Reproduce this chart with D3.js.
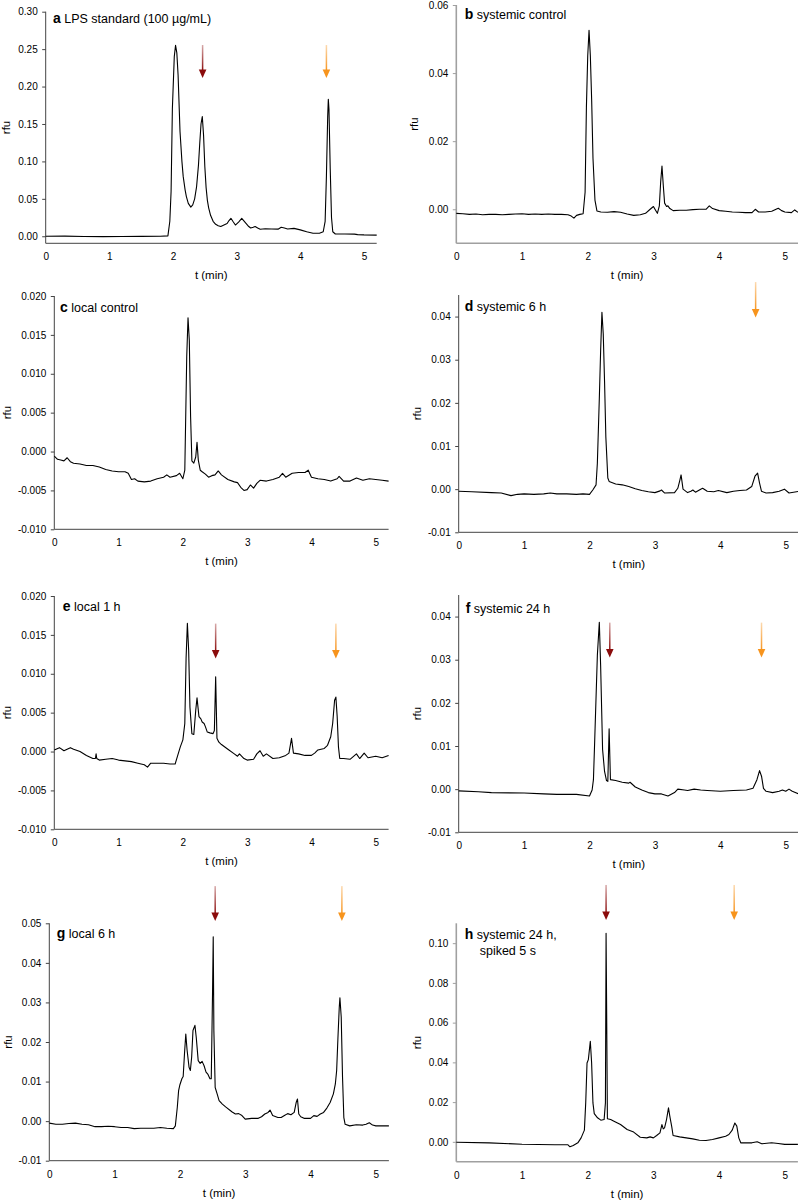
<!DOCTYPE html>
<html><head><meta charset="utf-8">
<script src="https://cdn.jsdelivr.net/npm/d3@7"></script>
<style>
body{margin:0;background:#fff}
svg{display:block}
text{font-family:"Liberation Sans",Arial,Helvetica,sans-serif;fill:#000}
</style>
</head><body>
<svg id="chart" width="798" height="1202"></svg>
<script>
// ---------------- DATA ----------------
const xTicks = [0, 1, 2, 3, 4, 5];

const traceA = [[0,0],[0.3,0.0002],[0.6,-0.0003],[0.9,-0.0005],[1.2,-0.0004],[1.5,-0.0002],[1.8,0],[1.92,0.0005],[1.95,0.02],[1.97,0.06],[1.99,0.17],[2.02,0.24],[2.04,0.255],[2.06,0.245],[2.08,0.215],[2.11,0.14],[2.14,0.10],[2.16,0.08],[2.19,0.062],[2.21,0.053],[2.24,0.044],[2.28,0.039],[2.31,0.042],[2.34,0.05],[2.37,0.066],[2.40,0.095],[2.42,0.124],[2.44,0.15],[2.46,0.16],[2.48,0.135],[2.50,0.093],[2.52,0.065],[2.54,0.048],[2.56,0.038],[2.59,0.028],[2.63,0.02],[2.67,0.016],[2.71,0.014],[2.75,0.013],[2.80,0.015],[2.85,0.017],[2.88,0.021],[2.91,0.024],[2.94,0.02],[2.98,0.015],[3.03,0.019],[3.08,0.024],[3.12,0.02],[3.16,0.016],[3.19,0.013],[3.22,0.011],[3.26,0.012],[3.29,0.013],[3.33,0.011],[3.37,0.0093],[3.45,0.01],[3.55,0.0098],[3.65,0.0095],[3.7,0.012],[3.75,0.011],[3.8,0.0098],[3.9,0.0105],[4.0,0.0085],[4.1,0.006],[4.2,0.004],[4.3,0.004],[4.36,0.006],[4.39,0.02],[4.41,0.08],[4.43,0.16],[4.44,0.183],[4.45,0.17],[4.47,0.09],[4.49,0.025],[4.51,0.006],[4.55,0.003],[4.7,0.003],[4.85,0.0028],[4.9,0.0022],[5.0,0.0018],[5.2,0.0015]];

const traceB = [[0,-0.0012],[0.1,-0.0013],[0.2,-0.0015],[0.3,-0.0014],[0.4,-0.0016],[0.5,-0.0015],[0.6,-0.0015],[0.7,-0.0016],[0.8,-0.0015],[0.9,-0.0014],[1.0,-0.0013],[1.1,-0.0015],[1.2,-0.0014],[1.3,-0.0015],[1.4,-0.0014],[1.5,-0.0015],[1.6,-0.0015],[1.7,-0.0016],[1.75,-0.002],[1.79,-0.0026],[1.83,-0.0018],[1.88,-0.0015],[1.93,-0.0013],[1.96,0.005],[1.98,0.03],[2.0,0.045],[2.02,0.0526],[2.04,0.045],[2.06,0.032],[2.08,0.015],[2.11,0.0027],[2.14,-0.0005],[2.2,-0.0008],[2.3,-0.0009],[2.4,-0.0007],[2.5,-0.0009],[2.6,-0.0014],[2.7,-0.0018],[2.8,-0.0016],[2.88,-0.0012],[2.95,0],[3.0,0.0008],[3.03,-0.0002],[3.06,-0.0012],[3.09,0.001],[3.11,0.008],[3.13,0.0127],[3.15,0.007],[3.17,0.0018],[3.2,0.0008],[3.22,0.001],[3.25,0.0002],[3.3,-0.0004],[3.4,-0.0003],[3.5,-0.0003],[3.6,-0.0001],[3.7,0],[3.8,0],[3.85,0.001],[3.9,0.0002],[4.0,-0.0004],[4.1,-0.0006],[4.2,-0.0008],[4.3,-0.0009],[4.4,-0.001],[4.5,-0.001],[4.55,0],[4.6,-0.0008],[4.7,-0.0008],[4.8,-0.0006],[4.9,0.0003],[4.95,-0.0004],[5.0,-0.0008],[5.1,-0.001],[5.15,-0.0002],[5.2,-0.0009]];

const traceC = [[0,-0.0006],[0.05,-0.001],[0.1,-0.0011],[0.15,-0.0012],[0.2,-0.0008],[0.25,-0.0013],[0.3,-0.0015],[0.4,-0.0016],[0.5,-0.0018],[0.6,-0.0018],[0.7,-0.002],[0.8,-0.0023],[0.9,-0.0025],[1.0,-0.0026],[1.1,-0.0026],[1.15,-0.0028],[1.2,-0.0036],[1.25,-0.0035],[1.3,-0.0038],[1.4,-0.0039],[1.5,-0.0038],[1.6,-0.0035],[1.7,-0.0033],[1.75,-0.003],[1.8,-0.0033],[1.9,-0.0031],[1.95,-0.0028],[2.0,-0.0035],[2.03,-0.0024],[2.06,0.0122],[2.08,0.0172],[2.10,0.0143],[2.12,0.0045],[2.14,-0.0012],[2.17,-0.0015],[2.20,-0.0007],[2.22,0.0012],[2.24,-0.0011],[2.27,-0.0024],[2.3,-0.0026],[2.35,-0.0029],[2.4,-0.0033],[2.45,-0.0031],[2.5,-0.003],[2.55,-0.0025],[2.6,-0.003],[2.7,-0.0036],[2.8,-0.0039],[2.85,-0.004],[2.9,-0.0046],[2.95,-0.005],[3.0,-0.0049],[3.05,-0.0043],[3.1,-0.0047],[3.15,-0.0041],[3.2,-0.0037],[3.3,-0.0038],[3.4,-0.0036],[3.5,-0.0033],[3.55,-0.0028],[3.6,-0.0033],[3.7,-0.0028],[3.8,-0.0027],[3.9,-0.0027],[3.95,-0.0024],[4.0,-0.0033],[4.1,-0.0035],[4.2,-0.0036],[4.3,-0.0038],[4.4,-0.0035],[4.43,-0.0032],[4.5,-0.0038],[4.6,-0.0038],[4.7,-0.0034],[4.8,-0.0037],[4.9,-0.0035],[5.0,-0.0036],[5.1,-0.0037],[5.2,-0.0038]];

const traceD = [[0,-0.0005],[0.2,-0.0006],[0.5,-0.0008],[0.65,-0.0009],[0.8,-0.0015],[0.9,-0.0012],[1.0,-0.0011],[1.15,-0.0012],[1.3,-0.0011],[1.4,-0.0009],[1.5,-0.0011],[1.65,-0.0011],[1.8,-0.0012],[1.9,-0.0011],[2.0,-0.0012],[2.05,-0.0002],[2.1,0.001],[2.12,0.006],[2.15,0.021],[2.17,0.032],[2.19,0.041],[2.21,0.036],[2.23,0.025],[2.25,0.012],[2.28,0.0026],[2.3,0.0018],[2.4,0.0012],[2.5,0.001],[2.6,0.0006],[2.7,0.0001],[2.8,-0.0003],[2.9,-0.0006],[3.0,-0.0008],[3.08,-0.0004],[3.1,-0.0002],[3.15,-0.0009],[3.3,-0.0008],[3.35,0.0002],[3.38,0.002],[3.4,0.0033],[3.43,0],[3.5,-0.0008],[3.55,-0.0005],[3.58,-0.0002],[3.62,-0.0007],[3.7,0],[3.73,0.0002],[3.8,-0.0005],[3.9,-0.0006],[3.97,-0.0003],[4.1,-0.0008],[4.2,-0.0005],[4.3,-0.0003],[4.4,-0.0002],[4.48,0.0006],[4.53,0.003],[4.57,0.0037],[4.6,0.0014],[4.63,-0.0005],[4.7,-0.0009],[4.8,-0.0008],[4.9,-0.0005],[4.98,0],[5.05,-0.0009],[5.2,-0.0005]];

const traceE = [[0,0.0002],[0.08,0.0005],[0.15,0.0001],[0.25,0.0005],[0.3,0.0003],[0.4,0],[0.5,-0.0005],[0.6,-0.0009],[0.64,-0.0009],[0.65,-0.0003],[0.66,-0.0009],[0.7,-0.0011],[0.8,-0.001],[0.9,-0.0009],[1.0,-0.0011],[1.1,-0.0012],[1.2,-0.0013],[1.3,-0.0015],[1.4,-0.0017],[1.45,-0.002],[1.5,-0.0015],[1.6,-0.0015],[1.7,-0.0015],[1.8,-0.0016],[1.88,-0.0016],[1.92,-0.0005],[1.96,0.0006],[2.0,0.0015],[2.03,0.0036],[2.05,0.012],[2.07,0.0165],[2.09,0.013],[2.11,0.0057],[2.14,0.0023],[2.17,0.0022],[2.2,0.0053],[2.22,0.0069],[2.25,0.0045],[2.28,0.0042],[2.3,0.0038],[2.33,0.0036],[2.35,0.0032],[2.38,0.0025],[2.42,0.0024],[2.47,0.0023],[2.49,0.0027],[2.51,0.0096],[2.53,0.0017],[2.56,0.0012],[2.6,0.0009],[2.7,0.0003],[2.8,-0.0003],[2.85,-0.0006],[2.88,-0.0003],[2.95,-0.0009],[3.0,-0.0011],[3.1,-0.001],[3.15,-0.0003],[3.2,0.0001],[3.25,-0.0006],[3.3,-0.0003],[3.4,-0.0009],[3.5,-0.0008],[3.6,-0.0005],[3.65,-0.0002],[3.69,0.0017],[3.72,-0.0002],[3.8,-0.0003],[3.9,-0.0005],[4.0,-0.0005],[4.05,-0.0002],[4.1,0.0002],[4.2,0.0004],[4.25,0.0008],[4.3,0.0019],[4.33,0.0036],[4.36,0.0066],[4.38,0.007],[4.4,0.0045],[4.42,0.0006],[4.44,-0.0009],[4.5,-0.0009],[4.6,-0.001],[4.7,-0.0003],[4.75,-0.0009],[4.82,-0.0002],[4.88,-0.0008],[5.0,-0.0006],[5.1,-0.0008],[5.2,-0.0005]];

const traceF = [[0,-0.0004],[0.3,-0.0006],[0.5,-0.0008],[1.0,-0.0009],[1.3,-0.0011],[1.5,-0.0012],[1.8,-0.0012],[2.0,-0.0016],[2.04,-0.0002],[2.06,0.0022],[2.08,0.0115],[2.12,0.031],[2.15,0.0387],[2.17,0.0287],[2.2,0.0092],[2.23,0.0041],[2.26,0.002],[2.28,0.0018],[2.3,0.014],[2.32,0.0022],[2.4,0.002],[2.5,0.0016],[2.6,0.0014],[2.62,0.0016],[2.7,0.0005],[2.8,-0.0002],[2.9,-0.0008],[3.0,-0.0011],[3.1,-0.0011],[3.2,-0.0016],[3.3,-0.0008],[3.35,0],[3.45,-0.0002],[3.5,-0.0003],[3.6,0],[3.7,-0.0002],[3.8,-0.0003],[4.0,-0.0005],[4.2,-0.0003],[4.4,-0.0002],[4.5,0.0002],[4.56,0.0022],[4.6,0.0043],[4.63,0.003],[4.66,0.0002],[4.7,-0.0005],[4.8,-0.0008],[4.9,-0.0005],[4.95,-0.0002],[5.0,-0.0005],[5.05,0],[5.1,-0.0005],[5.2,-0.0011]];

const traceG = [[0,-0.0005],[0.1,-0.0008],[0.2,-0.0008],[0.3,-0.0006],[0.4,-0.0005],[0.5,-0.0008],[0.6,-0.0009],[0.7,-0.0014],[0.8,-0.0014],[0.9,-0.0013],[1.0,-0.0014],[1.1,-0.0016],[1.2,-0.0016],[1.3,-0.0019],[1.4,-0.0018],[1.5,-0.0018],[1.6,-0.0018],[1.7,-0.0016],[1.8,-0.0018],[1.9,-0.0019],[1.93,-0.0012],[1.96,0.0035],[1.98,0.0077],[2.0,0.0092],[2.03,0.0107],[2.05,0.0113],[2.07,0.017],[2.09,0.022],[2.11,0.0179],[2.14,0.0136],[2.16,0.0128],[2.18,0.0162],[2.2,0.0229],[2.23,0.0242],[2.25,0.0212],[2.28,0.0153],[2.31,0.0146],[2.34,0.0151],[2.37,0.014],[2.4,0.0124],[2.43,0.0118],[2.46,0.0107],[2.48,0.0107],[2.5,0.033],[2.51,0.0466],[2.52,0.0229],[2.54,0.0085],[2.57,0.0069],[2.6,0.0052],[2.65,0.0043],[2.7,0.0036],[2.8,0.0023],[2.85,0.0018],[2.9,0.0019],[2.95,0.0014],[3.0,0.0005],[3.1,0.0007],[3.2,0.0007],[3.25,0.0011],[3.3,0.0018],[3.35,0.0022],[3.38,0.0028],[3.42,0.0014],[3.5,0.0009],[3.55,0.0009],[3.6,0.0014],[3.65,0.0019],[3.7,0.0016],[3.75,0.0022],[3.78,0.0047],[3.8,0.0056],[3.82,0.0018],[3.85,0.0011],[3.9,0.0007],[4.0,0.0007],[4.05,0.0014],[4.1,0.0012],[4.15,0.0018],[4.2,0.0022],[4.25,0.0033],[4.3,0.0047],[4.35,0.0069],[4.38,0.0094],[4.4,0.0128],[4.42,0.0212],[4.44,0.0288],[4.45,0.0312],[4.47,0.0263],[4.49,0.0111],[4.51,0.0009],[4.53,-0.0008],[4.6,-0.0012],[4.7,-0.0009],[4.8,-0.001],[4.85,-0.0008],[4.9,-0.0004],[4.95,-0.001],[5.0,-0.0012],[5.2,-0.0012]];

const traceH = [[0,-0.0002],[0.5,-0.0005],[1.0,-0.0012],[1.5,-0.0015],[1.7,-0.0015],[1.73,-0.0025],[1.78,-0.0018],[1.85,-0.0005],[1.9,0.002],[1.95,0.0059],[1.97,0.0196],[1.99,0.0397],[2.01,0.0414],[2.04,0.0506],[2.06,0.0397],[2.08,0.0196],[2.1,0.0142],[2.15,0.0121],[2.2,0.0109],[2.25,0.0112],[2.27,0.0196],[2.28,0.105],[2.29,0.06],[2.3,0.0116],[2.35,0.0112],[2.4,0.0104],[2.5,0.0087],[2.6,0.0062],[2.7,0.0049],[2.8,0.0023],[2.9,0.002],[2.95,0.0025],[3.0,0.002],[3.05,0.0032],[3.1,0.0045],[3.13,0.0087],[3.15,0.0065],[3.17,0.007],[3.2,0.0112],[3.23,0.0171],[3.25,0.0129],[3.28,0.0075],[3.3,0.0032],[3.4,0.0025],[3.5,0.002],[3.6,0.0015],[3.7,0.0008],[3.8,0.0007],[3.9,0.0012],[4.0,0.002],[4.1,0.0028],[4.15,0.0037],[4.2,0.0059],[4.24,0.0095],[4.27,0.0079],[4.3,0.002],[4.33,-0.0005],[4.4,-0.0005],[4.5,-0.0005],[4.58,0],[4.65,-0.001],[4.8,-0.0005],[4.9,-0.0008],[5.0,-0.0013],[5.2,-0.0013]];

// y tick values
const ticksA = [0, 0.05, 0.10, 0.15, 0.20, 0.25, 0.30];
const ticksB = [0, 0.02, 0.04, 0.06];
const ticksCE = [-0.010, -0.005, 0, 0.005, 0.010, 0.015, 0.020];
const ticksDF = [-0.01, 0, 0.01, 0.02, 0.03, 0.04];
const ticksG = [-0.01, 0, 0.01, 0.02, 0.03, 0.04, 0.05];
const ticksH = [0, 0.02, 0.04, 0.06, 0.08, 0.10];

// arrows: [t, top value, tip value, kind] kind 0 = dark red, 1 = orange
const arrowsA = [[2.465, 0.2555, 0.2114, 0], [4.41, 0.2555, 0.2114, 1]];
const arrowsD = [[4.54, 0.048, 0.0398, 1]];
const arrowsE = [[2.51, 0.01645, 0.01195, 0], [4.38, 0.01645, 0.01195, 1]];
const arrowsF = [[2.31, 0.0386, 0.0305, 0], [4.63, 0.0386, 0.0305, 1]];
const arrowsG = [[2.54, 0.0594, 0.0506, 0], [4.48, 0.0594, 0.0506, 1]];
const arrowsH = [[2.28, 0.1293, 0.1117, 0], [4.23, 0.1293, 0.1117, 1]];

const letters = ["a","b","c","d","e","f","g","h"];
const titles = [["LPS standard (100 µg/mL)"],["systemic control"],["local control"],["systemic 6 h"],["local 1 h"],["systemic 24 h"],["local 6 h"],["systemic 24 h,","spiked 5 s"]];

// ---------------- LAYOUT ----------------
const L = [
  {trace:traceA, ticks:ticksA, fmt:".2f", arrows:arrowsA, yDom:[-0.0094,0.30], yR:[243.3,11.7], xR:[45.7,376.7], lab:[53,23], yl:10, axc:"#444", axw:1},
  {trace:traceB, ticks:ticksB, fmt:".2f", arrows:[], yDom:[-0.01,0.06], yR:[243.3,5], xR:[456.3,798], lab:[464.7,19], yl:418, axc:"#a0a0a0", axw:1.6},
  {trace:traceC, ticks:ticksCE, fmt:".3f", arrows:[], yDom:[-0.01,0.02], yR:[529.3,296], xR:[54.3,388.6], lab:[60,312], yl:10.7, axc:"#444", axw:1},
  {trace:traceD, ticks:ticksDF, fmt:".2f", arrows:arrowsD, yDom:[-0.01,0.045], yR:[532.3,295], xR:[458.7,798.8], lab:[464.7,311], yl:420.7, axc:"#444", axw:1},
  {trace:traceE, ticks:ticksCE, fmt:".3f", arrows:arrowsE, yDom:[-0.01,0.02], yR:[829.3,596], xR:[54.3,388.6], lab:[62.7,611], yl:10.7, axc:"#444", axw:1},
  {trace:traceF, ticks:ticksDF, fmt:".2f", arrows:arrowsF, yDom:[-0.01,0.045], yR:[832.3,595], xR:[458.7,798.8], lab:[465.7,613], yl:420.7, axc:"#444", axw:1},
  {trace:traceG, ticks:ticksG, fmt:".2f", arrows:arrowsG, yDom:[-0.01,0.05], yR:[1160.7,923.3], xR:[49.3,388.9], lab:[56.7,938], yl:11.7, axc:"#444", axw:1},
  {trace:traceH, ticks:ticksH, fmt:".2f", arrows:arrowsH, yDom:[-0.01,0.11], yR:[1161.7,923.3], xR:[456.3,797.9], lab:[464.7,939], yl:420.7, axc:"#a0a0a0", axw:1.6}
];
const arrowColors = ["#8b0c0c", "#f7941d"];
const loc = d3.formatLocale({decimal:".", thousands:",", grouping:[3], currency:["",""], minus:"-"});

const svg = d3.select("#chart");
const defs = svg.append("defs");
arrowColors.forEach((c,i)=>{
  const g = defs.append("linearGradient").attr("id","grad"+i).attr("x1",0).attr("y1",0).attr("x2",0).attr("y2",1);
  g.append("stop").attr("offset","0%").attr("stop-color",c).attr("stop-opacity",0.35);
  g.append("stop").attr("offset","100%").attr("stop-color",c).attr("stop-opacity",1);
});

L.forEach((p, i) => {
  const x = d3.scaleLinear().domain([0, 5.2]).range(p.xR);
  const y = d3.scaleLinear().domain(p.yDom).range(p.yR);
  const g = svg.append("g");
  const f = loc.format(p.fmt);

  // y axis
  const yAx = d3.axisLeft(y).tickValues(p.ticks).tickFormat(f).tickSize(3.5).tickPadding(4.5);
  const gy = g.append("g").attr("transform", `translate(${p.xR[0]},0)`).call(yAx);
  gy.select(".domain").attr("d", `M0,${p.yR[0]}V${p.yR[1]}`).attr("stroke", p.axc).attr("stroke-width", p.axw);
  gy.selectAll(".tick line").attr("stroke", p.axc).attr("stroke-width", 1);
  gy.selectAll(".tick text").attr("font-size", "10px").attr("font-family", null);

  // x axis
  const xAx = d3.axisBottom(x).tickValues(xTicks).tickFormat(d3.format("d")).tickSize(0).tickPadding(10);
  const gx = g.append("g").attr("transform", `translate(0,${p.yR[0]})`).call(xAx);
  gx.select(".domain").attr("d", `M${p.xR[0]},0H${p.xR[1]}`).attr("stroke", p.axc).attr("stroke-width", p.axw);
  gx.selectAll(".tick text").attr("font-size", "10px").attr("font-family", null);

  // trace
  const line = d3.line().x(d => x(d[0])).y(d => y(d[1]));
  g.append("path").datum(p.trace).attr("d", line).attr("fill", "none").attr("stroke", "#000").attr("stroke-width", 1.1).attr("stroke-linejoin","round");

  // arrows
  p.arrows.forEach(a => {
    const ax = x(a[0]), yt = y(a[1]), yp = y(a[2]);
    g.append("rect").attr("x", ax - 0.75).attr("y", yt).attr("width", 1.5).attr("height", yp - yt - 7).attr("fill", `url(#grad${a[3]})`);
    g.append("path").attr("d", `M${ax-3.8},${yp-8.5}L${ax+3.8},${yp-8.5}L${ax},${yp}Z`).attr("fill", arrowColors[a[3]]);
  });

  // axis titles
  g.append("text").attr("x", (p.xR[0] + p.xR[1]) / 2).attr("y", p.yR[0] + 36).attr("text-anchor", "middle").attr("font-size", "11.5px").text("t (min)");
  const ym = (p.yR[0] + p.yR[1]) / 2;
  g.append("text").attr("transform", `translate(${p.yl},${ym}) rotate(-90)`).attr("text-anchor", "middle").attr("font-size", "11.5px").text("rfu");

  // panel label
  const t = g.append("text").attr("x", p.lab[0]).attr("y", p.lab[1]).attr("font-size", "12.5px");
  t.append("tspan").attr("font-weight", "bold").attr("font-size", "14px").text(letters[i]);
  t.append("tspan").text(" " + titles[i][0]);
  if (titles[i].length > 1) {
    g.append("text").attr("x", p.lab[0] + 15).attr("y", p.lab[1] + 16).attr("font-size", "12.5px").text(titles[i][1]);
  }
});
</script>
</body></html>
